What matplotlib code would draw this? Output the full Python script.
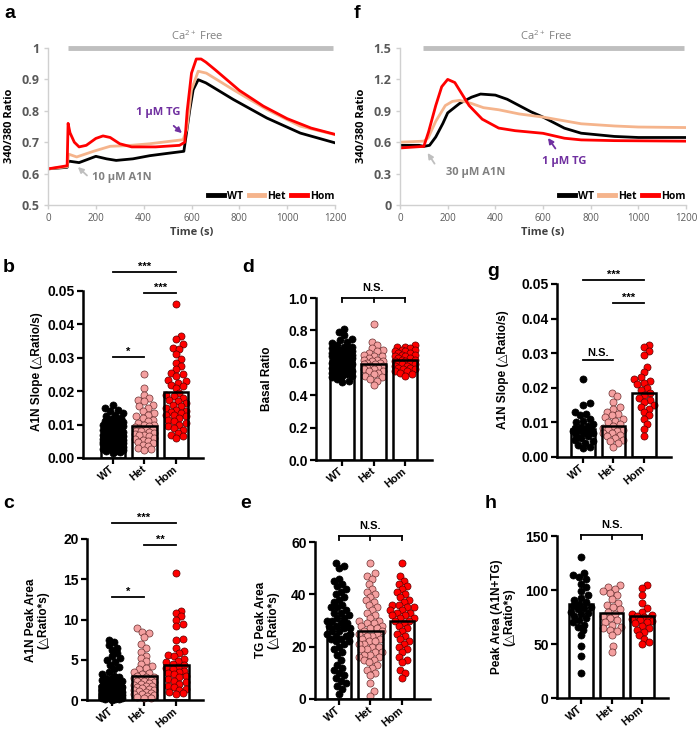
import numpy as np
import matplotlib
matplotlib.use('Agg')
import matplotlib.pyplot as plt
from matplotlib.lines import Line2D
from matplotlib.transforms import ScaledTranslation

# ---------------- data ----------------
groups = ["WT", "Het", "Hom"]

# panel a traces (time s, 340/380 ratio)
a_wt_t = [0, 80, 84, 130, 200, 245, 285, 355, 425, 495, 568, 575, 593, 607, 628, 660, 775, 915, 1055, 1200]
a_wt = [0.615, 0.62, 0.64, 0.635, 0.655, 0.647, 0.642, 0.647, 0.657, 0.664, 0.671, 0.708, 0.804, 0.867, 0.899, 0.889, 0.836, 0.777, 0.729, 0.698]
a_het_t = [0, 80, 86, 120, 190, 260, 330, 425, 565, 580, 600, 628, 662, 775, 915, 1055, 1200]
a_het = [0.615, 0.622, 0.662, 0.653, 0.671, 0.687, 0.689, 0.695, 0.708, 0.74, 0.867, 0.926, 0.92, 0.867, 0.804, 0.751, 0.724]
a_hom_t = [0, 80, 84, 92, 110, 130, 160, 200, 230, 260, 300, 350, 450, 550, 572, 582, 600, 620, 640, 660, 700, 800, 900, 1000, 1100, 1200]
a_hom = [0.615, 0.625, 0.76, 0.73, 0.70, 0.685, 0.69, 0.712, 0.72, 0.715, 0.695, 0.685, 0.685, 0.69, 0.70, 0.80, 0.92, 0.965, 0.965, 0.955, 0.93, 0.865, 0.815, 0.775, 0.745, 0.725]

# panel f traces
f_wt_t = [0, 80, 100, 124, 150, 180, 200, 250, 300, 338, 400, 450, 500, 550, 600, 690, 760, 900, 1000, 1200]
f_wt = [0.57, 0.57, 0.56, 0.57, 0.65, 0.78, 0.88, 0.97, 1.03, 1.06, 1.05, 1.01, 0.95, 0.89, 0.84, 0.734, 0.686, 0.655, 0.645, 0.645]
f_het_t = [0, 100, 118, 150, 190, 220, 250, 300, 350, 414, 500, 600, 700, 760, 900, 1000, 1200]
f_het = [0.60, 0.61, 0.64, 0.80, 0.95, 0.99, 1.0, 0.97, 0.93, 0.91, 0.87, 0.84, 0.80, 0.776, 0.755, 0.745, 0.74]
f_hom_t = [0, 100, 120, 150, 175, 200, 230, 260, 290, 345, 414, 483, 600, 690, 760, 900, 1200]
f_hom = [0.545, 0.56, 0.70, 0.95, 1.13, 1.20, 1.17, 1.06, 0.95, 0.82, 0.735, 0.71, 0.685, 0.638, 0.622, 0.615, 0.61]

# panel b: A1N slope (10 uM)
b_wt = [0.016, 0.015, 0.0145, 0.014, 0.0135, 0.013, 0.0125, 0.012, 0.0118, 0.0115, 0.011, 0.0108, 0.0105, 0.0102, 0.010,
        0.0098, 0.0095, 0.0093, 0.009, 0.009, 0.0088, 0.0086, 0.0085, 0.0083, 0.0082, 0.008, 0.008, 0.0078, 0.0077, 0.0075,
        0.0074, 0.0073, 0.0072, 0.007, 0.007, 0.0069, 0.0068, 0.0067, 0.0066, 0.0065, 0.0065, 0.0064, 0.0063, 0.0062, 0.0061,
        0.006, 0.006, 0.0059, 0.0058, 0.0057, 0.0056, 0.0055, 0.0055, 0.0054, 0.0053, 0.0052, 0.0051, 0.005, 0.005, 0.0049,
        0.0048, 0.0047, 0.0046, 0.0045, 0.0044, 0.0043, 0.0042, 0.0041, 0.004, 0.0039, 0.0038, 0.0037, 0.0036, 0.0035, 0.0034,
        0.0033, 0.0032, 0.003, 0.0028, 0.0026, 0.0024, 0.0022, 0.002, 0.0018, 0.0015]
b_het = [0.025, 0.021, 0.019, 0.018, 0.0175, 0.017, 0.016, 0.0155, 0.015, 0.014, 0.0135, 0.013, 0.0125, 0.012, 0.0115, 0.011,
         0.0105, 0.010, 0.0098, 0.0095, 0.0092, 0.009, 0.0088, 0.0085, 0.0082, 0.008, 0.0078, 0.0075, 0.0072, 0.007, 0.0068,
         0.0065, 0.006, 0.0058, 0.0055, 0.005, 0.0048, 0.0045, 0.004, 0.0035, 0.003, 0.0028, 0.0025]
b_hom = [0.046, 0.0365, 0.0355, 0.034, 0.033, 0.0325, 0.031, 0.0295, 0.0285, 0.0275, 0.0265, 0.0255, 0.025, 0.0245, 0.0235,
         0.023, 0.0225, 0.022, 0.0215, 0.021, 0.0195, 0.019, 0.0185, 0.018, 0.0175, 0.017, 0.0165, 0.016, 0.0155, 0.015,
         0.0145, 0.014, 0.0138, 0.0135, 0.013, 0.0128, 0.0125, 0.012, 0.0115, 0.011, 0.0105, 0.010, 0.0095, 0.009, 0.0085,
         0.0075, 0.007, 0.0065, 0.006]
b_means = [0.0068, 0.0097, 0.0198]

# panel c: A1N peak area
c_wt = [7.5, 7.2, 6.8, 6.5, 6.2, 5.8, 5.5, 5.2, 5.0, 4.7, 4.4, 4.1, 3.8, 3.5, 3.2, 3.0, 2.8, 2.7, 2.6, 2.5, 2.4, 2.3, 2.2,
        2.2, 2.1, 2.0, 2.0, 1.9, 1.8, 1.8, 1.7, 1.7, 1.6, 1.6, 1.5, 1.5, 1.4, 1.4, 1.3, 1.3, 1.2, 1.2, 1.1, 1.1, 1.0, 1.0,
        0.95, 0.9, 0.9, 0.85, 0.8, 0.8, 0.75, 0.7, 0.7, 0.65, 0.6, 0.6, 0.55, 0.5, 0.5, 0.45, 0.4, 0.4, 0.35, 0.3, 0.3,
        0.25, 0.2, 0.2, 0.15, 0.1, 0.1, 0.05]
c_het = [8.9, 8.5, 8.3, 7.8, 7.0, 6.5, 6.0, 5.5, 5.2, 4.8, 4.5, 4.2, 4.0, 3.8, 3.5, 3.3, 3.2, 3.0, 2.9, 2.8, 2.7, 2.6, 2.5,
         2.4, 2.3, 2.2, 2.1, 2.0, 1.9, 1.8, 1.7, 1.6, 1.5, 1.4, 1.3, 1.2, 1.1, 1.0, 0.9, 0.8, 0.7, 0.6, 0.5, 0.4, 0.3, 0.2]
c_hom = [15.8, 11.1, 10.8, 10.4, 9.9, 9.4, 9.2, 7.6, 7.4, 6.5, 6.1, 5.8, 5.6, 5.5, 5.1, 4.9, 4.7, 4.5, 4.3, 4.1, 4.0, 3.8,
         3.6, 3.5, 3.4, 3.2, 3.0, 2.8, 2.6, 2.4, 2.2, 2.0, 1.8, 1.6, 1.4, 1.2, 1.0, 0.9, 0.8]
c_means = [1.8, 3.0, 4.3]

# panel d: basal ratio
d_wt = [0.81, 0.79, 0.77, 0.75, 0.74, 0.73, 0.72, 0.71, 0.70, 0.70, 0.69, 0.69, 0.68, 0.68, 0.67, 0.67, 0.67, 0.66, 0.66,
        0.66, 0.65, 0.65, 0.65, 0.65, 0.64, 0.64, 0.64, 0.64, 0.63, 0.63, 0.63, 0.63, 0.62, 0.62, 0.62, 0.62, 0.61, 0.61,
        0.61, 0.61, 0.60, 0.60, 0.60, 0.60, 0.59, 0.59, 0.59, 0.58, 0.58, 0.58, 0.57, 0.57, 0.57, 0.56, 0.56, 0.56, 0.55,
        0.55, 0.54, 0.54, 0.53, 0.53, 0.52, 0.52, 0.51, 0.50, 0.49, 0.48]
d_het = [0.84, 0.73, 0.71, 0.69, 0.68, 0.67, 0.66, 0.65, 0.64, 0.64, 0.63, 0.62, 0.62, 0.61, 0.61, 0.60, 0.60, 0.59, 0.59,
         0.58, 0.58, 0.57, 0.57, 0.56, 0.56, 0.55, 0.55, 0.54, 0.53, 0.52, 0.51, 0.50, 0.49, 0.46]
d_hom = [0.71, 0.70, 0.70, 0.69, 0.68, 0.68, 0.67, 0.67, 0.66, 0.66, 0.65, 0.65, 0.64, 0.64, 0.63, 0.63, 0.62, 0.62, 0.61,
         0.61, 0.60, 0.60, 0.59, 0.59, 0.58, 0.58, 0.57, 0.57, 0.56, 0.56, 0.55, 0.55, 0.54, 0.53, 0.52]
d_means = [0.62, 0.59, 0.62]

# panel e: TG peak area
e_wt = [52, 51, 50, 46, 45, 44, 43, 42, 41, 40, 39, 38, 37, 36, 35, 35, 34, 33, 33, 32, 31, 31, 30, 30, 29, 29, 28, 28,
        27, 27, 26, 26, 25, 25, 24, 24, 23, 23, 22, 22, 21, 20, 19, 18, 17, 15, 13, 12, 11, 10, 9, 8, 7, 6, 5, 4, 2]
e_het = [52, 48, 47, 46, 44, 42, 41, 40, 39, 38, 37, 36, 35, 34, 33, 32, 31, 30, 30, 29, 29, 28, 28, 27, 27, 26, 26, 25,
         25, 24, 24, 23, 23, 22, 22, 21, 21, 20, 20, 19, 19, 18, 18, 17, 17, 16, 16, 15, 15, 14, 13, 12, 11, 10, 9, 6, 3, 1]
e_hom = [52, 47, 45, 44, 43, 42, 41, 40, 39, 38, 37, 36, 36, 35, 35, 34, 34, 33, 33, 32, 32, 31, 31, 30, 30, 29, 28, 27,
         26, 25, 24, 23, 22, 21, 20, 19, 18, 16, 15, 14, 11, 10, 8]
e_means = [27.5, 26.0, 30.0]

# panel g: A1N slope (30 uM)
g_wt = [0.0225, 0.0155, 0.015, 0.013, 0.0125, 0.012, 0.011, 0.0105, 0.01, 0.0095, 0.009, 0.0088, 0.0085, 0.008, 0.008,
        0.0078, 0.0075, 0.0072, 0.007, 0.0068, 0.0065, 0.006, 0.0055, 0.005, 0.0045, 0.004, 0.0035, 0.003, 0.0025]
g_het = [0.0185, 0.0175, 0.016, 0.0145, 0.014, 0.013, 0.0125, 0.012, 0.0115, 0.011, 0.0105, 0.01, 0.0095, 0.009, 0.0085,
         0.008, 0.0078, 0.0075, 0.007, 0.0068, 0.0065, 0.006, 0.0055, 0.005, 0.0045, 0.004, 0.003]
g_hom = [0.0325, 0.0318, 0.0305, 0.0295, 0.026, 0.0245, 0.023, 0.0225, 0.022, 0.0215, 0.021, 0.02, 0.0195, 0.0185, 0.018,
         0.017, 0.0165, 0.016, 0.015, 0.0145, 0.014, 0.013, 0.012, 0.011, 0.0095, 0.008, 0.006]
g_means = [0.0080, 0.0090, 0.0185]

# panel h: peak area (A1N+TG)
h_wt = [131, 116, 114, 112, 110, 106, 103, 99, 95, 93, 91, 89, 87, 85, 84, 83, 82, 80, 79, 78, 76, 74, 72, 70, 68, 66,
        63, 58, 48, 39, 23]
h_het = [105, 103, 101, 99, 97, 95, 92, 88, 86, 84, 82, 80, 78, 76, 74, 72, 70, 68, 66, 65, 63, 62, 58, 48, 43]
h_hom = [105, 102, 95, 88, 83, 80, 78, 77, 76, 75, 74, 73, 72, 71, 70, 69, 67, 65, 63, 61, 58, 55, 52, 50]
h_means = [87, 79, 76]

# ---------------- style ----------------
W, H = 698, 729
fig = plt.figure(figsize=(W / 100, H / 100), dpi=100)
FB = ['Liberation Sans', 'DejaVu Sans']
FX = ['Open Sans', 'DejaVu Sans']
plt.rcParams['font.family'] = FB
plt.rcParams['mathtext.fontset'] = 'custom'
plt.rcParams['mathtext.rm'] = 'Open Sans'

TR_COL = {'WT': '#000000', 'Het': '#F5B48C', 'Hom': '#FF0000'}
DOT_COL = {'WT': '#000000', 'Het': '#F4A0A0', 'Hom': '#FF0000'}
DOT_EDGE = {'WT': '#000000', 'Het': '#6b3030', 'Hom': '#5a0000'}


def add_ax(x0, x1, ytop, ybot):
    return fig.add_axes([x0 / W, 1 - ybot / H, (x1 - x0) / W, (ybot - ytop) / H])


def ftext(x, y, s, **kw):
    fig.text(x / W, 1 - y / H, s, **kw)


# ---------------- trace panels ----------------
def trace_panel(ax, traces, ylim, yticks, ca_x0, ca_y, ca_text_y, ca_text_x):
    for name, t, v in traces:
        ax.plot(t, v, color=TR_COL[name], lw=2.0, solid_joinstyle='round')
    ax.set_xlim(0, 1200)
    ax.set_ylim(*ylim)
    ax.set_xticks(range(0, 1201, 200))
    ax.set_yticks(yticks)
    ax.set_yticklabels(['%g' % v for v in yticks], fontweight='bold', color='#595959', family=FX, fontsize=9)
    ax.set_xticklabels([str(v) for v in range(0, 1201, 200)], color='#595959', family=FX, fontsize=7)
    for s in ['top', 'right']:
        ax.spines[s].set_visible(False)
    for s in ['left', 'bottom']:
        ax.spines[s].set_color('#D0D0D0')
        ax.spines[s].set_linewidth(1.0)
    ax.tick_params(axis='both', color='#D0D0D0', length=3, width=1, pad=3)
    ax.set_xlabel('Time (s)', fontweight='bold', family=FX, fontsize=8, color='#404040', labelpad=2)
    ax.plot([ca_x0, 1190], [ca_y, ca_y], color='#BFBFBF', lw=3.5, clip_on=False, solid_capstyle='butt')
    ax.text(ca_text_x, ca_text_y, r'Ca$^{2+}$ Free', ha='center', va='center', color='#808080', family=FX, fontsize=8)
    handles = [Line2D([], [], color=TR_COL[g], lw=3.5) for g in groups]
    ax.legend(handles, groups, ncol=3, loc='lower right', bbox_to_anchor=(1.03, -0.04), frameon=False,
              handlelength=1.5, columnspacing=0.5, handletextpad=0.3,
              prop={'family': FX, 'weight': 'bold', 'size': 7.5})


ax_a = add_ax(48, 335, 48, 205)
trace_panel(ax_a, [('WT', a_wt_t, a_wt), ('Het', a_het_t, a_het), ('Hom', a_hom_t, a_hom)],
            (0.5, 1.0), [0.5, 0.6, 0.7, 0.8, 0.9, 1.0], 84, 1.0, 1.038, 623)
ax_a.annotate('1 µM TG', xy=(560, 0.729), xytext=(460, 0.796), ha='center', va='center', color='#7030A0',
              fontweight='bold', family=FX, fontsize=8,
              arrowprops=dict(arrowstyle='-|>', color='#7030A0', lw=1.3, mutation_scale=8, shrinkA=6, shrinkB=0))
ax_a.text(309, 0.586, '10 µM A1N', ha='center', va='center', color='#808080',
          fontweight='bold', family=FX, fontsize=8)
ax_a.annotate('', xy=(125, 0.621), xytext=(163, 0.594),
              arrowprops=dict(arrowstyle='-|>', color='#BFBFBF', lw=1.3, mutation_scale=8, shrinkA=0, shrinkB=0))

ax_f = add_ax(400, 686, 48, 205)
trace_panel(ax_f, [('WT', f_wt_t, f_wt), ('Het', f_het_t, f_het), ('Hom', f_hom_t, f_hom)],
            (0.0, 1.5), [0.0, 0.3, 0.6, 0.9, 1.2, 1.5], 95, 1.5, 1.615, 612)
ax_f.text(319, 0.306, '30 µM A1N', ha='center', va='center', color='#808080', fontweight='bold', family=FX, fontsize=8)
ax_f.annotate('', xy=(116, 0.497), xytext=(145, 0.395),
              arrowprops=dict(arrowstyle='-|>', color='#BFBFBF', lw=1.3, mutation_scale=8, shrinkA=0, shrinkB=0))
ax_f.text(691, 0.42, '1 µM TG', ha='center', va='center', color='#7030A0', fontweight='bold', family=FX, fontsize=8)
ax_f.annotate('', xy=(621, 0.64), xytext=(652, 0.54),
              arrowprops=dict(arrowstyle='-|>', color='#7030A0', lw=1.3, mutation_scale=8, shrinkA=0, shrinkB=0))

ftext(10, 126, '340/380 Ratio', rotation=90, ha='center', va='center', fontweight='bold', family=FX, fontsize=8)
ftext(362, 126, '340/380 Ratio', rotation=90, ha='center', va='center', fontweight='bold', family=FX, fontsize=8)


# ---------------- bar/scatter panels ----------------
def swarm_offsets(ax, x0, vals, dmin, maxhalf):
    tr = ax.transData
    ypx = np.array([tr.transform((x0, v))[1] for v in vals])
    ppu = tr.transform((1, 0))[0] - tr.transform((0, 0))[0]
    maxw = maxhalf * ppu
    step = dmin * 0.3
    cands = [0.0]
    k = 1
    while k * step <= maxw:
        cands += [k * step, -k * step]
        k += 1
    placed = []
    offs = np.zeros(len(vals))
    for i in np.argsort(ypx):
        best, bestd = 0.0, -1
        for c in cands:
            md = min([np.hypot(c - px, ypx[i] - py) for px, py in placed], default=1e9)
            if md >= dmin:
                best = c
                break
            if md > bestd:
                bestd, best = md, c
        offs[i] = best
        placed.append((best, ypx[i]))
    return offs / ppu


def bar_panel(ax, datas, means, xlim, ylim, yticks, fmt, maxhalf=0.34):
    pos = np.arange(3)
    ax.set_xlim(*xlim)
    ax.set_ylim(*ylim)
    ax.bar(pos, means, width=0.78, color='white', edgecolor='none', zorder=1)
    for i, (g, vals) in enumerate(zip(groups, datas)):
        offs = swarm_offsets(ax, i, vals, 5.5, maxhalf)
        ax.scatter(i + offs, vals, s=26, color=DOT_COL[g], edgecolors=DOT_EDGE[g], linewidths=0.5, zorder=2,
                   clip_on=False)
    ax.bar(pos, means, width=0.78, fill=False, edgecolor='black', linewidth=1.8, zorder=3)
    ax.set_xticks(pos)
    ax.set_xticklabels(groups, rotation=40, ha='right', va='center', rotation_mode='anchor',
                       fontweight='bold', fontsize=7.8)
    shift = ScaledTranslation(3 / 100, 0, fig.dpi_scale_trans)
    for lab in ax.get_xticklabels():
        lab.set_transform(lab.get_transform() + shift)
    ax.set_yticks(yticks)
    ax.set_yticklabels([fmt % v for v in yticks], fontweight='bold', fontsize=10)
    for s in ['top', 'right']:
        ax.spines[s].set_visible(False)
    for s in ['left', 'bottom']:
        ax.spines[s].set_linewidth(1.8)
    ax.tick_params(axis='both', length=4, width=1.6, pad=2)
    ax.tick_params(axis='x', pad=3)


def sig(ax, x1, x2, y, text, fs=8, dy=0.0):
    ax.plot([x1, x2], [y, y], color='black', lw=1.3, clip_on=False, zorder=4)
    ax.text((x1 + x2) / 2, y + dy, text, ha='center', va='bottom', fontweight='bold', fontsize=fs, clip_on=False)


def bracket(ax, y, tick, dy):
    ax.plot([0, 2], [y, y], color='black', lw=1.3, clip_on=False)
    for x in (0, 1, 2):
        ax.plot([x, x], [y, y - tick], color='black', lw=1.3, clip_on=False)
    ax.text(1, y + dy, 'N.S.', ha='center', va='bottom', fontweight='bold', fontsize=8, clip_on=False)


YL = dict(rotation=90, ha='center', va='center', fontweight='bold', fontsize=8.5, linespacing=1.1)

# b
ax_b = add_ax(83, 203, 291, 458)
bar_panel(ax_b, [b_wt, b_het, b_hom], b_means, (-0.95, 2.86), (0, 0.05), [0, 0.01, 0.02, 0.03, 0.04, 0.05], '%.2f')
sig(ax_b, 0, 2, 0.0557, '***')
sig(ax_b, 1, 2, 0.0494, '***')
sig(ax_b, 0, 1, 0.0302, '*')
ftext(37, 372, 'A1N Slope (△Ratio/s)', **YL)

# c
ax_c = add_ax(87, 203, 539, 700)
bar_panel(ax_c, [c_wt, c_het, c_hom], c_means, (-0.78, 2.84), (0, 20), [0, 5, 10, 15, 20], '%d')
sig(ax_c, 0, 2, 22.0, '***')
sig(ax_c, 1, 2, 19.3, '**')
sig(ax_c, 0, 1, 12.8, '*')
ftext(37, 620, 'A1N Peak Area\n(△Ratio*s)', **YL)

# d
ax_d = add_ax(316, 432, 298, 460)
bar_panel(ax_d, [d_wt, d_het, d_hom], d_means, (-0.83, 2.86), (0, 1.0), [0, 0.2, 0.4, 0.6, 0.8, 1.0], '%.1f')
bracket(ax_d, 1.0, 0.025, 0.03)
ftext(267, 379, 'Basal Ratio', **YL)

# e
ax_e = add_ax(315, 430, 542, 699)
bar_panel(ax_e, [e_wt, e_het, e_hom], e_means, (-0.76, 2.89), (0, 60), [0, 20, 40, 60], '%d', maxhalf=0.37)
bracket(ax_e, 62.3, 1.5, 1.8)
ftext(267, 620, 'TG Peak Area\n(△Ratio*s)', **YL)

# g
ax_g = add_ax(557, 671, 284, 457)
bar_panel(ax_g, [g_wt, g_het, g_hom], g_means, (-0.85, 2.89), (0, 0.05), [0, 0.01, 0.02, 0.03, 0.04, 0.05], '%.2f')
sig(ax_g, 0, 2, 0.0512, '***')
sig(ax_g, 1, 2, 0.0445, '***')
sig(ax_g, 0, 1, 0.028, 'N.S.', dy=0.0006)
ftext(503, 370, 'A1N Slope (△Ratio/s)', **YL)

# h
ax_h = add_ax(557, 668, 536, 698)
bar_panel(ax_h, [h_wt, h_het, h_hom], h_means, (-0.79, 2.85), (0, 150), [0, 50, 100, 150], '%d')
bracket(ax_h, 151, 4, 5)
ftext(503, 617, 'Peak Area (A1N+TG)\n(△Ratio*s)', **YL)

# panel letters
for lab, x, y in [('a', 10, 14), ('f', 357, 14), ('b', 9, 268), ('c', 9, 503), ('d', 248, 268), ('e', 246, 503),
                  ('g', 493, 271), ('h', 491, 503)]:
    ftext(x, y, lab, ha='center', va='center', fontweight='bold', fontsize=14)

fig.savefig('out.png', dpi=100)
